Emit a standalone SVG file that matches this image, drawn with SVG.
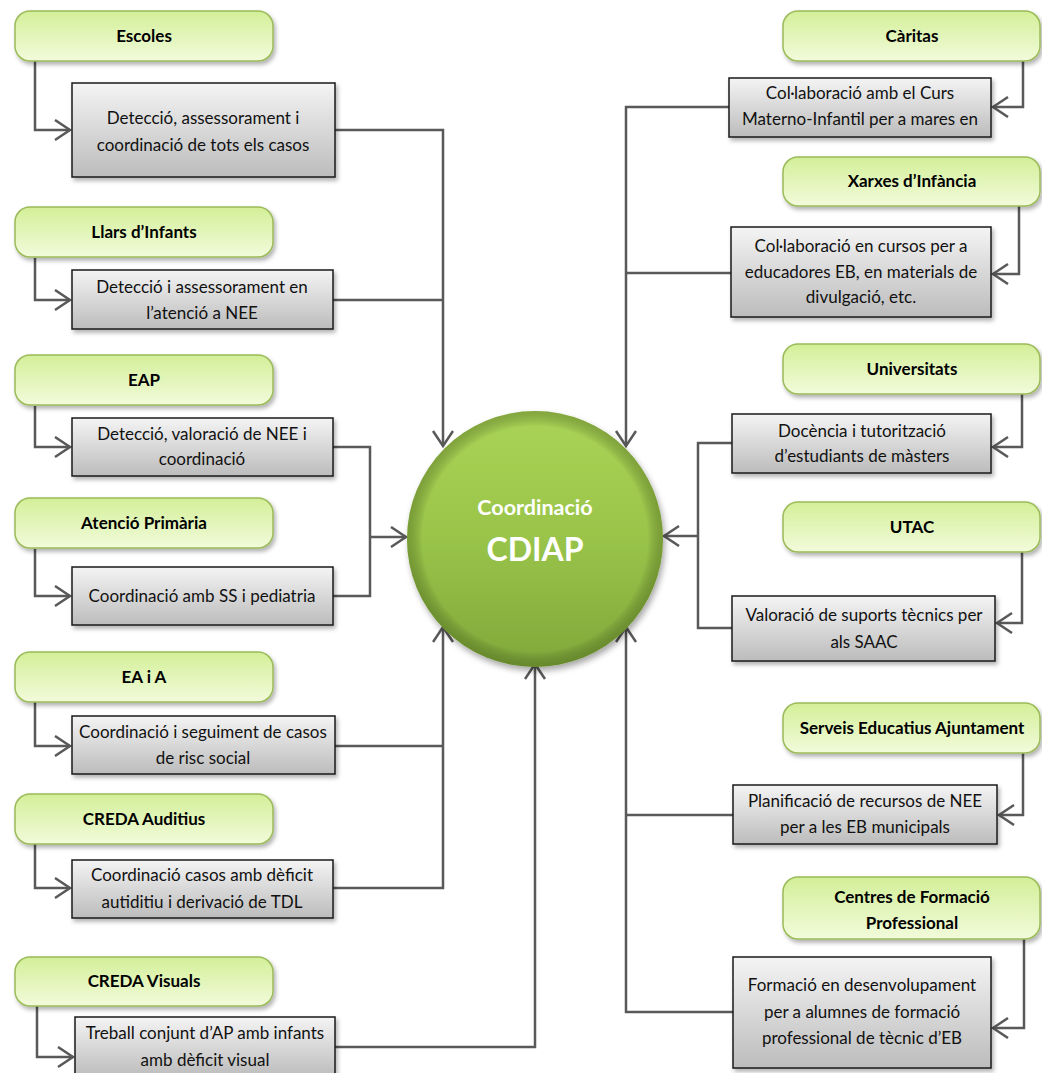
<svg xmlns="http://www.w3.org/2000/svg" width="1042" height="1073" viewBox="0 0 1042 1073">
<defs>
<linearGradient id="gGreen" x1="0" y1="0" x2="0" y2="1">
<stop offset="0" stop-color="#d3ef98"/>
<stop offset="1" stop-color="#f2fbdb"/>
</linearGradient>
<linearGradient id="gGray" x1="0" y1="0" x2="0" y2="1">
<stop offset="0" stop-color="#f4f4f4"/>
<stop offset="1" stop-color="#bcbcbc"/>
</linearGradient>
<linearGradient id="gCircle" x1="0" y1="0" x2="0" y2="1">
<stop offset="0" stop-color="#aad456"/>
<stop offset="0.5" stop-color="#99c449"/>
<stop offset="1" stop-color="#7fa83b"/>
</linearGradient>
<radialGradient id="gRim" cx="0.5" cy="0.5" r="0.5">
<stop offset="0.88" stop-color="#000" stop-opacity="0"/>
<stop offset="1" stop-color="#3a5010" stop-opacity="0.35"/>
</radialGradient>
<filter id="shadow" x="-10%" y="-20%" width="120%" height="150%">
<feDropShadow dx="2" dy="3" stdDeviation="2" flood-color="#000" flood-opacity="0.3"/>
</filter>
<filter id="cshadow" x="-10%" y="-10%" width="125%" height="125%">
<feDropShadow dx="2" dy="4" stdDeviation="3" flood-color="#000" flood-opacity="0.35"/>
</filter>
<marker id="arr" markerUnits="userSpaceOnUse" markerWidth="24" markerHeight="24" refX="16" refY="11" orient="auto" viewBox="0 0 24 24">
<path d="M1,1 L16,11 L1,21" fill="none" stroke="#595959" stroke-width="2.5"/>
</marker>
<style>
.node rect.g{fill:url(#gGreen);stroke:#9bbb59;stroke-width:1.5;filter:url(#shadow)}
.node rect.b{fill:url(#gGray);stroke:#1a1a1a;stroke-width:1.5;filter:url(#shadow)}
.lbl{font-family:Lato,"Open Sans","Liberation Sans",sans-serif;font-weight:bold;font-size:17px;fill:#000;text-anchor:middle}
.txt{font-family:Lato,"Open Sans","Liberation Sans",sans-serif;font-size:17px;fill:#111;text-anchor:middle}
.c line,.c path{fill:none;stroke:#595959;stroke-width:2.5}
.a{marker-end:url(#arr)}
</style>
</defs>
<rect width="1042" height="1073" fill="#fff"/>

<g class="c" id="connectors">
<path class="a" d="M35,61 V130 H70"/>
<path class="a" d="M35,258 V300 H70"/>
<path class="a" d="M35,406 V447 H70"/>
<path class="a" d="M35,549 V596 H70"/>
<path class="a" d="M35,702 V746 H70"/>
<path class="a" d="M35,844 V888 H70"/>
<path class="a" d="M37,1006 V1057 H73"/>
<path class="a" d="M335,130 H443 V446"/>
<path d="M333,300 H443"/>
<path d="M333,447 H370 V596 H333"/>
<path class="a" d="M370,537 H406"/>
<path d="M335,746 H443"/>
<path class="a" d="M333,888 H443 V627"/>
<path class="a" d="M335,1047 H535 V664"/>
<path class="a" d="M1023,61 V107 H993"/>
<path class="a" d="M1019,206 V274 H993"/>
<path class="a" d="M1022,394 V447 H993"/>
<path class="a" d="M1022,552 V623 H997"/>
<path class="a" d="M1023,753 V815 H999"/>
<path class="a" d="M1024,939 V1028 H993"/>
<path class="a" d="M729,107 H626 V446"/>
<path d="M731,273 H626"/>
<path d="M732,443 H698 V628 H732"/>
<path class="a" d="M698,536 H664"/>
<path d="M733,815 H626"/>
<path class="a" d="M733,1012 H626 V627"/>
</g>

<g id="center" class="node">
<circle cx="535" cy="539" r="128" fill="url(#gCircle)" filter="url(#cshadow)"/>
<circle cx="535" cy="539" r="128" fill="url(#gRim)"/>
<text x="535" y="515" font-family="Lato,'Open Sans','Liberation Sans',sans-serif" font-weight="bold" font-size="21.5" fill="#fff" text-anchor="middle">Coordinació</text>
<text x="535" y="561" font-family="Lato,'Open Sans','Liberation Sans',sans-serif" font-weight="bold" font-size="32" fill="#fff" text-anchor="middle">CDIAP</text>
</g>

<g id="escoles" class="node"><rect class="g" x="15" y="11" width="258" height="50" rx="15"/><text class="lbl" x="144" y="42">Escoles</text></g>
<g id="escoles-act" class="node"><rect class="b" x="72" y="83" width="263" height="94"/><text class="txt" x="203" y="124">Detecció, assessorament i</text><text class="txt" x="203" y="151">coordinació de tots els casos</text></g>

<g id="llars" class="node"><rect class="g" x="15" y="207" width="258" height="50" rx="15"/><text class="lbl" x="144" y="238">Llars d’Infants</text></g>
<g id="llars-act" class="node"><rect class="b" x="72" y="270" width="261" height="59"/><text class="txt" x="202" y="293">Detecció i assessorament en</text><text class="txt" x="202" y="319">l’atenció a NEE</text></g>

<g id="eap" class="node"><rect class="g" x="15" y="355" width="258" height="50" rx="15"/><text class="lbl" x="144" y="386">EAP</text></g>
<g id="eap-act" class="node"><rect class="b" x="72" y="418" width="261" height="58"/><text class="txt" x="202" y="440">Detecció, valoració de NEE i</text><text class="txt" x="202" y="465">coordinació</text></g>

<g id="atencio" class="node"><rect class="g" x="15" y="498" width="258" height="50" rx="15"/><text class="lbl" x="144" y="529">Atenció Primària</text></g>
<g id="atencio-act" class="node"><rect class="b" x="72" y="567" width="261" height="58"/><text class="txt" x="202" y="602">Coordinació amb SS i pediatria</text></g>

<g id="eaia" class="node"><rect class="g" x="15" y="652" width="258" height="50" rx="15"/><text class="lbl" x="144" y="683">EA i A</text></g>
<g id="eaia-act" class="node"><rect class="b" x="72" y="716" width="263" height="58"/><text class="txt" x="203" y="738">Coordinació i seguiment de casos</text><text class="txt" x="203" y="764">de risc social</text></g>

<g id="creda-aud" class="node"><rect class="g" x="15" y="794" width="258" height="50" rx="15"/><text class="lbl" x="144" y="825">CREDA Auditius</text></g>
<g id="creda-aud-act" class="node"><rect class="b" x="72" y="860" width="261" height="58"/><text class="txt" x="202" y="881">Coordinació casos amb dèficit</text><text class="txt" x="202" y="908">autiditiu i derivació de TDL</text></g>

<g id="creda-vis" class="node"><rect class="g" x="15" y="957" width="258" height="49" rx="15"/><text class="lbl" x="144" y="987">CREDA Visuals</text></g>
<g id="creda-vis-act" class="node"><rect class="b" x="75" y="1017" width="260" height="60"/><text class="txt" x="205" y="1039">Treball conjunt d’AP amb infants</text><text class="txt" x="205" y="1066">amb dèficit visual</text></g>

<g id="caritas" class="node"><rect class="g" x="783" y="11" width="257" height="50" rx="15"/><text class="lbl" x="912" y="42">Càritas</text></g>
<g id="caritas-act" class="node"><rect class="b" x="729" y="78" width="262" height="59"/><text class="txt" x="860" y="99">Col·laboració amb el Curs</text><text class="txt" x="860" y="125">Materno-Infantil per a mares en</text></g>

<g id="xarxes" class="node"><rect class="g" x="783" y="157" width="257" height="49" rx="15"/><text class="lbl" x="912" y="187">Xarxes d’Infància</text></g>
<g id="xarxes-act" class="node"><rect class="b" x="731" y="227" width="260" height="90"/><text class="txt" x="861" y="252">Col·laboració en cursos per a</text><text class="txt" x="861" y="278">educadores EB, en materials de</text><text class="txt" x="861" y="303">divulgació, etc.</text></g>

<g id="universitats" class="node"><rect class="g" x="783" y="344" width="257" height="50" rx="15"/><text class="lbl" x="912" y="375">Universitats</text></g>
<g id="universitats-act" class="node"><rect class="b" x="732" y="414" width="259" height="59"/><text class="txt" x="862" y="437">Docència i tutorització</text><text class="txt" x="862" y="462">d’estudiants de màsters</text></g>

<g id="utac" class="node"><rect class="g" x="783" y="502" width="257" height="50" rx="15"/><text class="lbl" x="912" y="533">UTAC</text></g>
<g id="utac-act" class="node"><rect class="b" x="732" y="596" width="263" height="65"/><text class="txt" x="864" y="621">Valoració de suports tècnics per</text><text class="txt" x="864" y="648">als SAAC</text></g>

<g id="serveis" class="node"><rect class="g" x="783" y="703" width="257" height="50" rx="15"/><text class="lbl" x="912" y="734">Serveis Educatius Ajuntament</text></g>
<g id="serveis-act" class="node"><rect class="b" x="733" y="785" width="264" height="59"/><text class="txt" x="865" y="807">Planificació de recursos de NEE</text><text class="txt" x="865" y="833">per a les EB municipals</text></g>

<g id="centres" class="node"><rect class="g" x="783" y="877" width="257" height="62" rx="15"/><text class="lbl" x="912" y="903">Centres de Formació</text><text class="lbl" x="912" y="929">Professional</text></g>
<g id="centres-act" class="node"><rect class="b" x="733" y="957" width="258" height="111"/><text class="txt" x="862" y="991">Formació en desenvolupament</text><text class="txt" x="862" y="1018">per a alumnes de formació</text><text class="txt" x="862" y="1044">professional de tècnic d’EB</text></g>
</svg>
